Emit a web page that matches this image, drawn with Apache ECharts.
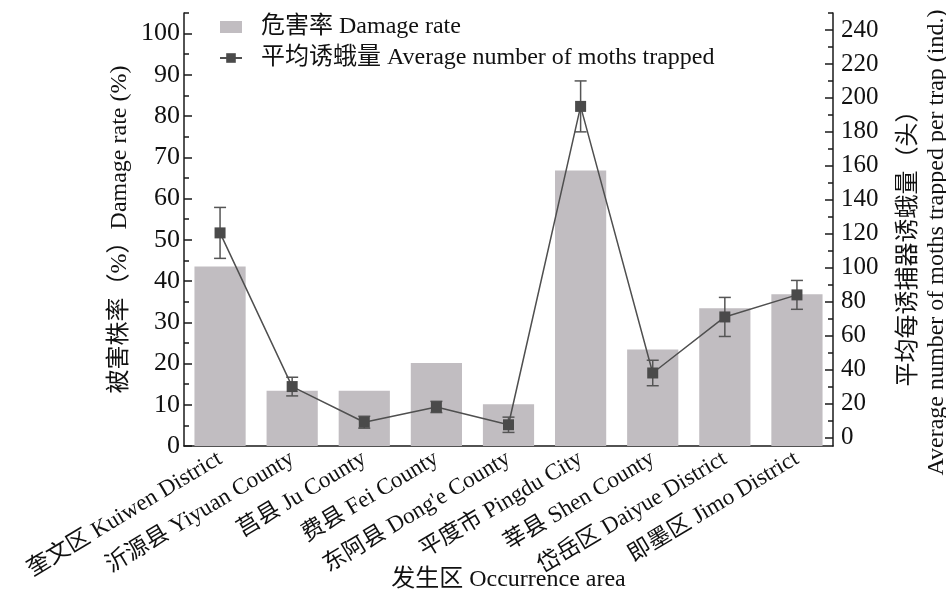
<!DOCTYPE html>
<html>
<head>
<meta charset="utf-8">
<script src="https://cdn.jsdelivr.net/npm/echarts@6/dist/echarts.min.js"></script>
<style>
  html, body { margin: 0; padding: 0; background: #fff; }
  #chart { width: 946px; height: 596px; }
</style>
</head>
<body>
<div id="chart"></div>
<script>
// Occurrence areas (x axis)
const areas = [
  '奎文区 Kuiwen District',
  '沂源县 Yiyuan County',
  '莒县 Ju County',
  '费县 Fei County',
  '东阿县 Dong\'e County',
  '平度市 Pingdu City',
  '莘县 Shen County',
  '岱岳区 Daiyue District',
  '即墨区 Jimo District'
];

// Damage rate (%), left axis
const damageRate = [43.5, 13.4, 13.4, 20.1, 10.1, 66.8, 23.4, 33.4, 36.8];

// Average number of moths trapped per trap, right axis, with error (±)
const mothMean = [120.5, 30, 9, 18, 7.5, 195, 38, 71, 84];
const mothErr = [15, 5.5, 3.5, 3.3, 4.5, 15, 7.5, 11.5, 8.5];

// Axis tick values
const leftTicks = [0, 10, 20, 30, 40, 50, 60, 70, 80, 90, 100];
const leftMinorTicks = [5, 15, 25, 35, 45, 55, 65, 75, 85, 95, 105];
const rightTicks = [0, 20, 40, 60, 80, 100, 120, 140, 160, 180, 200, 220, 240];
const rightMinorTicks = [10, 30, 50, 70, 90, 110, 130, 150, 170, 190, 210, 230, 250];

const FONT = "'Liberation Serif', 'Noto Sans CJK SC', serif";
const AXIS_COLOR = '#1a1a1a';
const BAR_COLOR = '#c1bdc1';
const LINE_COLOR = '#4f4f4f';

const errData = mothMean.map((m, i) => [i, m - mothErr[i], m + mothErr[i]]);

const chart = echarts.init(document.getElementById('chart'), null, { renderer: 'canvas' });

const option = {
  animation: false,
  backgroundColor: '#fff',
  grid: { left: 184, right: 113, top: 13, bottom: 150, containLabel: false, outerBoundsMode: 'none' },
  legend: {
    orient: 'vertical',
    left: 214,
    top: 10,
    itemWidth: 22,
    itemHeight: 12,
    itemGap: 7,
    textStyle: { fontFamily: FONT, fontSize: 24, color: '#111', padding: [0, 0, 0, 14] },
    data: [
      { name: '危害率 Damage rate', icon: 'rect' },
      { name: '平均诱蛾量 Average number of moths trapped' }
    ]
  },
  xAxis: {
    type: 'category',
    data: areas,
    boundaryGap: true,
    name: '发生区 Occurrence area',
    nameLocation: 'middle',
    nameGap: 122,
    nameMoveOverlap: false,
    nameTextStyle: { fontFamily: FONT, fontSize: 24, color: '#111' },
    axisLine: { lineStyle: { color: AXIS_COLOR, width: 1.5 } },
    axisTick: { alignWithLabel: true, inside: true, length: 8, lineStyle: { color: AXIS_COLOR, width: 1.5 } },
    axisLabel: { rotate: 31, fontFamily: FONT, fontSize: 23, color: '#111', margin: 11, interval: 0 },
    splitLine: { show: false }
  },
  yAxis: [
    {
      type: 'value', position: 'left', min: 0, max: 105,
      name: '被害株率（%）Damage rate (%)',
      nameLocation: 'middle', nameGap: 52, nameRotate: 90, nameMoveOverlap: false,
      nameTextStyle: { fontFamily: FONT, fontSize: 24, color: '#111' },
      axisLine: { show: true, lineStyle: { color: AXIS_COLOR, width: 1.5 } },
      axisTick: { show: true, inside: true, length: 8, customValues: leftTicks, lineStyle: { color: AXIS_COLOR, width: 1.5 } },
      axisLabel: { fontFamily: FONT, fontSize: 26, color: '#111', margin: 4, customValues: leftTicks },
      splitLine: { show: false }
    },
    {
      type: 'value', position: 'right', min: -5, max: 250,
      name: '平均每诱捕器诱蛾量（头）\nAverage number of moths trapped per trap (ind.)',
      nameLocation: 'middle', nameGap: 62, nameRotate: 90, nameMoveOverlap: false,
      nameTextStyle: { fontFamily: FONT, fontSize: 24, color: '#111', lineHeight: 28, padding: [0, 26, 0, 0] },
      axisLine: { show: true, lineStyle: { color: AXIS_COLOR, width: 1.5 } },
      axisTick: { show: true, inside: true, length: 8, customValues: rightTicks, lineStyle: { color: AXIS_COLOR, width: 1.5 } },
      axisLabel: { fontFamily: FONT, fontSize: 25, color: '#111', margin: 8, customValues: rightTicks },
      splitLine: { show: false }
    },
    {
      // minor ticks, left
      type: 'value', position: 'left', min: 0, max: 105,
      axisLine: { show: false },
      axisTick: { show: true, inside: true, length: 5, customValues: leftMinorTicks, lineStyle: { color: AXIS_COLOR, width: 1.5 } },
      axisLabel: { show: false },
      splitLine: { show: false }
    },
    {
      // minor ticks, right
      type: 'value', position: 'right', min: -5, max: 250,
      axisLine: { show: false },
      axisTick: { show: true, inside: true, length: 5, customValues: rightMinorTicks, lineStyle: { color: AXIS_COLOR, width: 1.5 } },
      axisLabel: { show: false },
      splitLine: { show: false }
    }
  ],
  series: [
    {
      name: '危害率 Damage rate',
      type: 'bar',
      yAxisIndex: 0,
      data: damageRate,
      barWidth: '71%',
      itemStyle: { color: BAR_COLOR },
      z: 1
    },
    {
      name: 'error',
      type: 'custom',
      yAxisIndex: 1,
      data: errData,
      encode: { x: 0, y: [1, 2] },
      z: 3,
      silent: true,
      renderItem: function (params, api) {
        const i = api.value(0);
        const lo = api.coord([i, api.value(1)]);
        const hi = api.coord([i, api.value(2)]);
        const cap = 6;
        const style = { stroke: '#555', lineWidth: 1.5, fill: null };
        return {
          type: 'group',
          children: [
            { type: 'line', shape: { x1: lo[0], y1: lo[1], x2: hi[0], y2: hi[1] }, style },
            { type: 'line', shape: { x1: hi[0] - cap, y1: hi[1], x2: hi[0] + cap, y2: hi[1] }, style },
            { type: 'line', shape: { x1: lo[0] - cap, y1: lo[1], x2: lo[0] + cap, y2: lo[1] }, style }
          ]
        };
      }
    },
    {
      name: '平均诱蛾量 Average number of moths trapped',
      type: 'line',
      yAxisIndex: 1,
      data: mothMean,
      symbol: 'rect',
      symbolSize: 11,
      lineStyle: { color: LINE_COLOR, width: 1.5 },
      itemStyle: { color: '#4a4a4a', borderWidth: 0 },
      z: 4
    }
  ]
};

chart.setOption(option);
</script>
</body>
</html>
